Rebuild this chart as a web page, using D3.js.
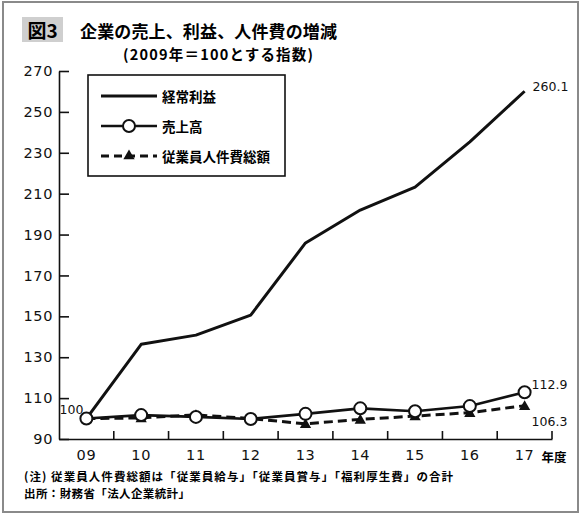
<!DOCTYPE html>
<html>
<head>
<meta charset="utf-8">
<script src="https://cdn.jsdelivr.net/npm/d3@7"></script>
<style>
  body { margin: 0; background: #fff; }
  .jp { font-family: "Noto Sans CJK JP", sans-serif; }
  .num { font-family: "DejaVu Sans", sans-serif; }
</style>
</head>
<body>
<svg id="chart"></svg>
<script>
const years = ["09", "10", "11", "12", "13", "14", "15", "16", "17"];
const profit = [100, 136.3, 140.8, 150.6, 185.9, 202.0, 213.2, 235.3, 260.1]; // 経常利益
const sales = [100, 101.7, 100.8, 99.8, 102.3, 105.0, 103.6, 106.1, 112.9];  // 売上高
const labor = [100, 100.3, 101.8, 100.0, 97.4, 99.6, 101.2, 102.9, 106.3];   // 従業員人件費総額
const yTicks = [90, 110, 130, 150, 170, 190, 210, 230, 250, 270];
const seriesNames = ["経常利益", "売上高", "従業員人件費総額"];

const width = 582, height = 515;
const svg = d3.select("#chart").attr("width", width).attr("height", height);

// frame
svg.append("rect")
    .attr("x", 3).attr("y", 2).attr("width", 575).attr("height", 510)
    .attr("fill", "#fff").attr("stroke", "#8a8a8a").attr("stroke-width", 2);

// title
svg.append("rect")
    .attr("x", 22).attr("y", 17).attr("width", 41).attr("height", 25)
    .attr("fill", "#cfcfcf");
svg.append("text").attr("class", "jp")
    .attr("x", 42.5).attr("y", 29.5).attr("dominant-baseline", "central")
    .attr("text-anchor", "middle").attr("font-size", 19).attr("font-weight", "bold")
    .text("図3");
svg.append("text").attr("class", "jp")
    .attr("x", 80).attr("y", 30).attr("dominant-baseline", "central")
    .attr("font-size", 17).attr("font-weight", "bold")
    .attr("textLength", 257)
    .text("企業の売上、利益、人件費の増減");
svg.append("text").attr("class", "jp")
    .attr("x", 123).attr("y", 53).attr("dominant-baseline", "central")
    .attr("font-size", 14.5).attr("font-weight", "bold")
    .attr("textLength", 190)
    .text("(2009年＝100とする指数)");

// scales
const x = d3.scaleBand().domain(years).range([59, 552]);
const y = d3.scaleLinear().domain([90, 270]).range([439, 71]);
const cx = (i) => x(years[i]) + x.bandwidth() / 2;

// y axis
const yAxis = svg.append("g")
    .attr("transform", "translate(59,0)")
    .call(d3.axisLeft(y).tickValues(yTicks).tickSizeInner(-10).tickSizeOuter(0).tickPadding(6));
yAxis.selectAll("path, line").attr("stroke", "#111").attr("stroke-width", 1.6);
yAxis.selectAll("text")
    .attr("class", "num").attr("font-size", 14.5).attr("fill", "#111")
    .attr("letter-spacing", 0.6);

// x axis
const xAxis = svg.append("g")
    .attr("transform", "translate(0,439)")
    .call(d3.axisBottom(x).tickSize(0).tickPadding(11));
xAxis.select("path").attr("stroke", "#111").attr("stroke-width", 1.6);
xAxis.selectAll("text")
    .attr("class", "num").attr("font-size", 14.5).attr("fill", "#111")
    .attr("letter-spacing", 0.6);
xAxis.selectAll(".bound")
    .data(years)
    .enter().append("line")
    .attr("class", "bound")
    .attr("x1", d => x(d) + x.bandwidth()).attr("x2", d => x(d) + x.bandwidth())
    .attr("y1", 0).attr("y2", -8)
    .attr("stroke", "#111").attr("stroke-width", 1.6);
svg.append("text").attr("class", "jp")
    .attr("x", cx(years.length - 1) + 17).attr("y", 456)
    .attr("dominant-baseline", "central")
    .attr("font-size", 12.5).attr("font-weight", "bold")
    .text("年度");

const line = d3.line().x((d, i) => cx(i)).y(d => y(d));

// 従業員人件費総額 (dashed + triangles)
svg.append("path")
    .datum(labor)
    .attr("d", line)
    .attr("fill", "none").attr("stroke", "#111").attr("stroke-width", 3)
    .attr("stroke-dasharray", "9,5");
svg.selectAll(".tri")
    .data(labor)
    .enter().append("path")
    .attr("class", "tri")
    .attr("d", d3.symbol(d3.symbolTriangle).size(55))
    .attr("transform", (d, i) => `translate(${cx(i)},${y(d) + 1})`)
    .attr("fill", "#111");

// 経常利益
svg.append("path")
    .datum(profit)
    .attr("d", line)
    .attr("fill", "none").attr("stroke", "#111").attr("stroke-width", 3)
    .attr("stroke-linejoin", "round");

// 売上高
svg.append("path")
    .datum(sales)
    .attr("d", line)
    .attr("fill", "none").attr("stroke", "#111").attr("stroke-width", 2.6);
svg.selectAll(".dot")
    .data(sales)
    .enter().append("circle")
    .attr("class", "dot")
    .attr("cx", (d, i) => cx(i)).attr("cy", d => y(d))
    .attr("r", 6)
    .attr("fill", "#fff").attr("stroke", "#111").attr("stroke-width", 2);

// value labels
const last = years.length - 1;
const labels = [
    { text: "100", x: cx(0) - 3, y: y(sales[0]) - 9.5, anchor: "end" },
    { text: "260.1", x: cx(last) + 8, y: y(profit[last]) - 5, anchor: "start" },
    { text: "112.9", x: cx(last) + 7, y: y(sales[last]) - 8, anchor: "start" },
    { text: "106.3", x: cx(last) + 7, y: y(labor[last]) + 16, anchor: "start" }
];
svg.selectAll(".vlab")
    .data(labels)
    .enter().append("text")
    .attr("class", "vlab num")
    .attr("x", d => d.x).attr("y", d => d.y)
    .attr("text-anchor", d => d.anchor)
    .attr("dominant-baseline", "central")
    .attr("font-size", 12.5).attr("fill", "#111")
    .text(d => d.text);

// legend
const legend = svg.append("g");
legend.append("rect")
    .attr("x", 88).attr("y", 75).attr("width", 197).attr("height", 101)
    .attr("fill", "#fff").attr("stroke", "#111").attr("stroke-width", 1.6);
const rows = legend.selectAll(".row")
    .data(seriesNames)
    .enter().append("g")
    .attr("class", "row")
    .attr("transform", (d, i) => `translate(0,${96 + i * 30})`);
rows.append("line")
    .attr("x1", 101).attr("x2", 157).attr("y1", 0).attr("y2", 0)
    .attr("stroke", "#111")
    .attr("stroke-width", (d, i) => i === 1 ? 2.6 : 3)
    .attr("stroke-dasharray", (d, i) => i === 2 ? "8,5" : null);
rows.filter((d, i) => i === 1).append("circle")
    .attr("cx", 129).attr("cy", 0).attr("r", 6)
    .attr("fill", "#fff").attr("stroke", "#111").attr("stroke-width", 2);
rows.filter((d, i) => i === 2).append("path")
    .attr("d", d3.symbol(d3.symbolTriangle).size(55))
    .attr("transform", "translate(129,0)")
    .attr("fill", "#111");
rows.append("text")
    .attr("class", "jp")
    .attr("x", 162).attr("y", 0).attr("dominant-baseline", "central")
    .attr("font-size", 13.5).attr("font-weight", "bold")
    .text(d => d);

// notes
svg.append("text").attr("class", "jp")
    .attr("x", 24).attr("y", 476).attr("dominant-baseline", "central")
    .attr("font-size", 11.5).attr("font-weight", "bold")
    .attr("textLength", 429)
    .text("(注) 従業員人件費総額は「従業員給与」「従業員賞与」「福利厚生費」の合計");
svg.append("text").attr("class", "jp")
    .attr("x", 24).attr("y", 493).attr("dominant-baseline", "central")
    .attr("font-size", 11.5).attr("font-weight", "bold")
    .attr("textLength", 166)
    .text("出所：財務省「法人企業統計」");
</script>
</body>
</html>
